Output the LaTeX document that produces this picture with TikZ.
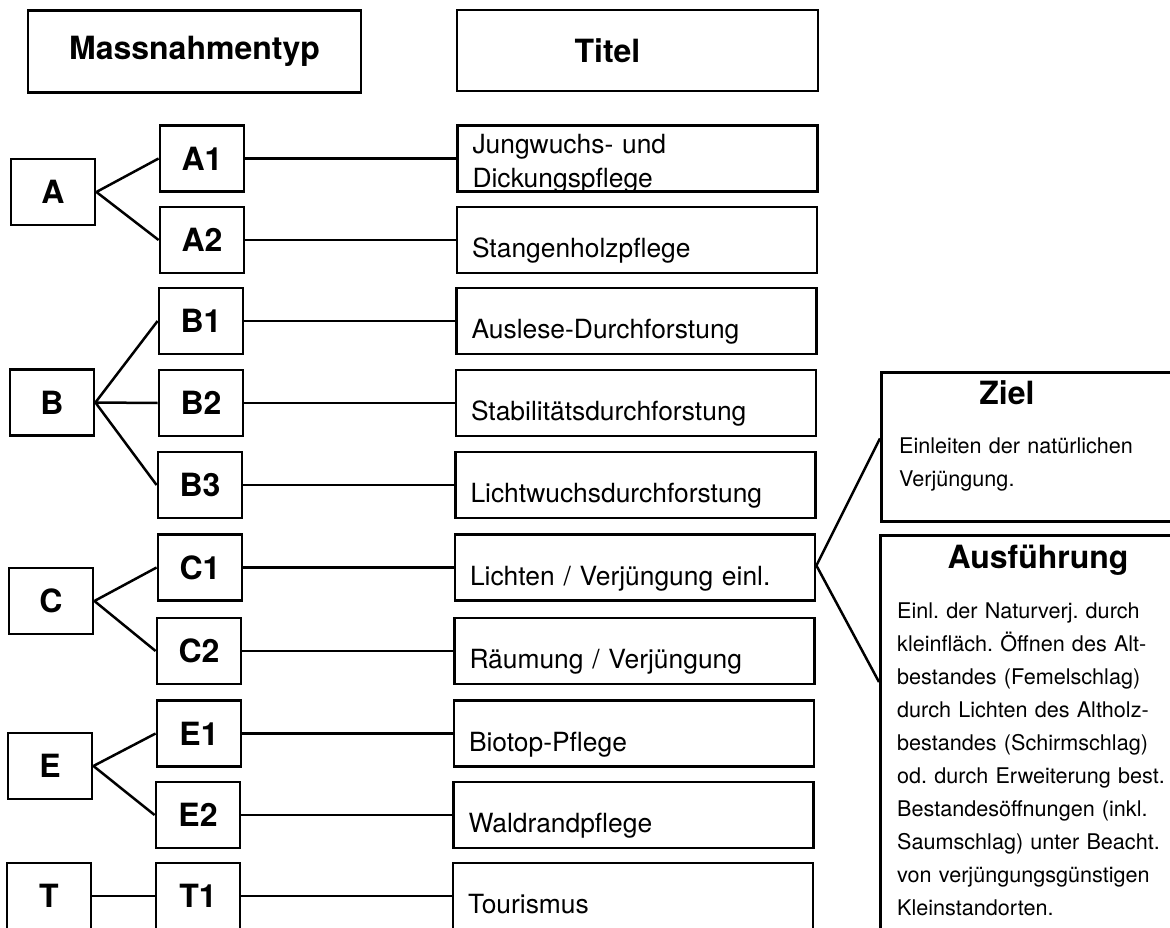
\documentclass[tikz,border=0pt]{standalone}
\usepackage{fontspec}
\setmainfont{TeX Gyre Heros}
\frenchspacing
\tikzset{
  box/.style      = {shape=rectangle, draw, line width=2.8pt, inner sep=0pt},
  headfont/.style = {font=\fontsize{32}{38}\selectfont\bfseries},
  headbox/.style  = {box, headfont, minimum height=82pt},
  typbox/.style   = {box, headfont, minimum width=84pt, minimum height=66pt},
  titelbox/.style = {box, minimum width=360pt, minimum height=66pt,
                     align=left, text width=330pt,
                     text height=50pt, text depth=15pt,
                     font=\fontsize{26.4}{34}\selectfont},
  infohead/.style = {headfont, anchor=base, inner sep=0pt},
  infotext/.style = {font=\fontsize{21.6}{33}\selectfont, align=left,
                     text width=300pt, anchor=base west, inner sep=0pt},
  link/.style     = {line width=2.5pt}
}

\begin{document}
\begin{tikzpicture}[x=1pt,y=-1pt]
 \useasboundingbox (0,0) rectangle (1170,928);
 \clip (0,0) rectangle (1170,928);

 % Kopfzeile
 \node[headbox, minimum width=333pt] (massn) at (194.5,51.5) {Massnahmentyp};
 \node[headbox, minimum width=361pt, minimum height=81pt,
       label={[headfont, xshift=-30pt]center:Titel}] (titel) at (637.5,50.5) {};

 % Massnahmentypen
 \node[typbox] (A) at (53,192) {A};
 \node[typbox] (B) at (52,402.5) {B};
 \node[typbox] (C) at (51,601) {C};
 \node[typbox] (E) at (50,766) {E};
 \node[typbox] (T) at (49,896) {T};

 \node[typbox] (A1) at (202,158.5) {A1};
 \node[typbox] (A2) at (202,240) {A2};
 \node[typbox] (B1) at (201,321) {B1};
 \node[typbox] (B2) at (201,403) {B2};
 \node[typbox] (B3) at (200,485) {B3};
 \node[typbox] (C1) at (200,567.5) {C1};
 \node[typbox] (C2) at (199,651) {C2};
 \node[typbox] (E1) at (199,733.5) {E1};
 \node[typbox] (E2) at (198,815) {E2};
 \node[typbox] (T1) at (198,896) {T1};

 % Titel
 \node[titelbox, text height=28pt, text depth=38pt] (tA1) at (637.5,158.5)
   {Jungwuchs- und\\Dickungspflege};
 \node[titelbox] (tA2) at (637,240) {Stangenholzpflege};
 \node[titelbox] (tB1) at (636.5,321) {Auslese-Durchforstung};
 \node[titelbox] (tB2) at (636,403) {Stabilitätsdurchforstung};
 \node[titelbox] (tB3) at (635.5,485) {Lichtwuchsdurchforstung};
 \node[titelbox] (tC1) at (635,567.5) {Lichten / Verjüngung einl.};
 \node[titelbox] (tC2) at (634.5,651) {Räumung / Verjüngung};
 \node[titelbox] (tE1) at (634,733.5) {Biotop-Pflege};
 \node[titelbox] (tE2) at (633.5,815) {Waldrandpflege};
 \node[titelbox] (tT1) at (633,896) {Tourismus};

 % Ziel und Ausfuehrung
 \node[box, minimum width=330pt, minimum height=149pt, anchor=north west]
   (zielbox) at (880,371) {};
 \node[box, minimum width=330pt, minimum height=430pt, anchor=north west]
   (ausfbox) at (879,534) {};
 \node[infohead] (ziel) at (1007,404) {Ziel};
 \node[infotext] (zieltext) at (899,453)
   {Einleiten der natürlichen\\Verjüngung.};
 \node[infohead] (ausf) at (1038,568) {Ausführung};
 \node[infotext] (ausftext) at (897,618)
   {Einl. der Naturverj. durch\\
    kleinfläch. Öffnen des Alt-\\
    bestandes (Femelschlag)\\
    durch Lichten des Altholz-\\
    bestandes (Schirmschlag)\\
    od. durch Erweiterung best.\\
    Bestandesöffnungen (inkl.\\
    Saumschlag) unter Beacht.\\
    von verjüngungsgünstigen\\
    Kleinstandorten.};

 % Verbindungen
 \draw[link] (A.east) -- (A1.west);
 \draw[link] (A.east) -- (A2.west);
 \draw[link] (B.east) -- (B1.west);
 \draw[link] (B.east) -- (B2.west);
 \draw[link] (B.east) -- (B3.west);
 \draw[link] (C.east) -- (C1.west);
 \draw[link] (C.east) -- (C2.west);
 \draw[link] (E.east) -- (E1.west);
 \draw[link] (E.east) -- (E2.west);
 \draw[link] (T.east) -- (T1.west);

 \draw[link] (A1.east) -- (tA1.west);
 \draw[link] (A2.east) -- (tA2.west);
 \draw[link] (B1.east) -- (tB1.west);
 \draw[link] (B2.east) -- (tB2.west);
 \draw[link] (B3.east) -- (tB3.west);
 \draw[link] (C1.east) -- (tC1.west);
 \draw[link] (C2.east) -- (tC2.west);
 \draw[link] (E1.east) -- (tE1.west);
 \draw[link] (E2.east) -- (tE2.west);
 \draw[link] (T1.east) -- (tT1.west);

 \draw[link] ([yshift=8.5pt]zielbox.west) -- ([yshift=2pt]tC1.east)
   -- ([yshift=-148pt]ausfbox.north west);
\end{tikzpicture}
\end{document}
